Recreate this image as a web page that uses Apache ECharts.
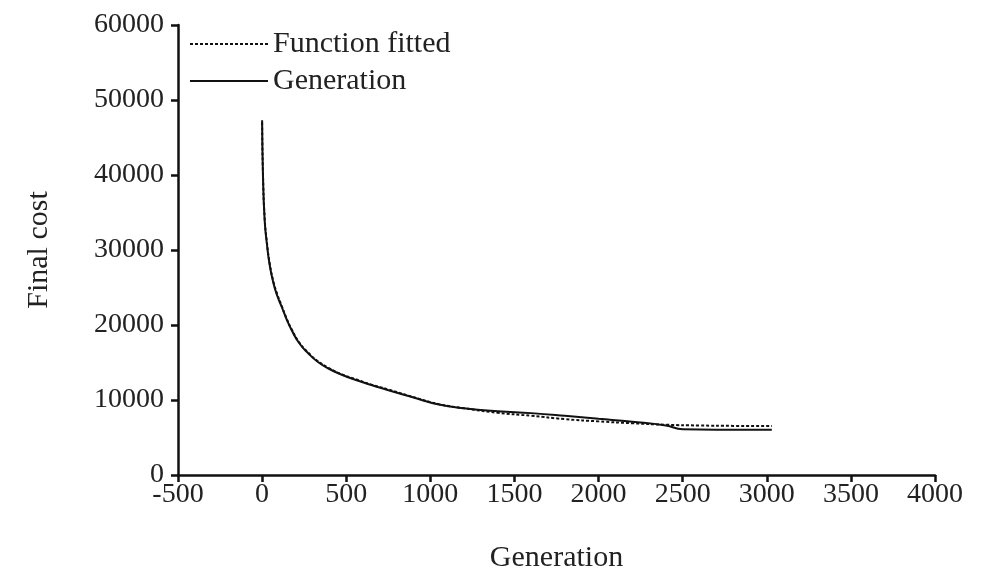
<!DOCTYPE html>
<html>
<head>
<meta charset="utf-8">
<script src="https://cdn.jsdelivr.net/npm/echarts@6/dist/echarts.min.js"></script>
<style>html,body{margin:0;padding:0;background:#fff}#c{width:982px;height:579px}</style>
</head>
<body>
<div id="c"></div>
<script>
const xTicks = [-500, 4000, 500];
const yTicks = [0, 60000, 10000];
const seriesNames = ['Function fitted', 'Generation'];
const fittedGen = [0,5,15,28,45,67,90,117,145,176,220,275,330,394,470,553,650,751,890,1050,1200,1400,1600,1800,2000,2200,2400,2600,2800,3030];
const fittedCost = [47000,40300,34300,31100,28200,25800,24100,22500,20900,19400,17700,16300,15200,14300,13450,12800,12050,11400,10450,9450,8900,8300,7900,7450,7150,6900,6700,6600,6550,6550];
const genGen = [0,5,15,28,45,67,90,117,145,176,220,275,330,394,470,553,650,751,890,1050,1200,1400,1600,1800,2000,2200,2400,2500,2700,3030];
const genCost = [47300,40000,34000,30900,28000,25600,23900,22400,20800,19300,17600,16200,15100,14200,13400,12700,12000,11300,10400,9400,8900,8500,8250,7900,7500,7100,6600,6100,6050,6050];

const font = 'Liberation Serif';
const chart = echarts.init(document.getElementById('c'));
chart.setOption({
  animation: false,
  backgroundColor: '#fff',
  grid: {left: 178, right: 47, top: 25, bottom: 104},
  legend: {
    orient: 'vertical', left: 184, top: 24,
    itemWidth: 78, itemHeight: 14, itemGap: 7,
    itemStyle: {opacity: 0},
    textStyle: {fontFamily: font, fontSize: 30, color: '#222'},
    data: seriesNames
  },
  xAxis: {
    type: 'value', min: xTicks[0], max: xTicks[1], interval: xTicks[2],
    name: 'Generation', nameLocation: 'middle', nameGap: 68,
    nameTextStyle: {fontFamily: font, fontSize: 30, color: '#222'},
    axisLine: {onZero: false, lineStyle: {color: '#111', width: 2.5}},
    axisTick: {length: 7, lineStyle: {color: '#111', width: 2.5}},
    axisLabel: {fontFamily: font, fontSize: 28, color: '#222', margin: 6, formatter: v => String(v)},
    splitLine: {show: false}
  },
  yAxis: {
    type: 'value', min: yTicks[0], max: yTicks[1], interval: yTicks[2],
    name: 'Final cost', nameLocation: 'middle', nameGap: 124,
    nameTextStyle: {fontFamily: font, fontSize: 30, color: '#222'},
    axisLine: {show: true, onZero: false, lineStyle: {color: '#111', width: 2.5}},
    axisTick: {show: true, length: 7, lineStyle: {color: '#111', width: 2.5}},
    axisLabel: {fontFamily: font, fontSize: 28, color: '#222', margin: 14, formatter: v => String(v)},
    splitLine: {show: false}
  },
  series: [
    {
      name: seriesNames[0], type: 'line', smooth: 0.5, symbol: 'none',
      lineStyle: {color: '#111', width: 2, type: [3, 2]},
      itemStyle: {color: '#111'},
      data: fittedGen.map((g, i) => [g, fittedCost[i]])
    },
    {
      name: seriesNames[1], type: 'line', smooth: 0.5, symbol: 'none',
      lineStyle: {color: '#111', width: 2},
      itemStyle: {color: '#111'},
      data: genGen.map((g, i) => [g, genCost[i]])
    }
  ]
});
</script>
</body>
</html>
